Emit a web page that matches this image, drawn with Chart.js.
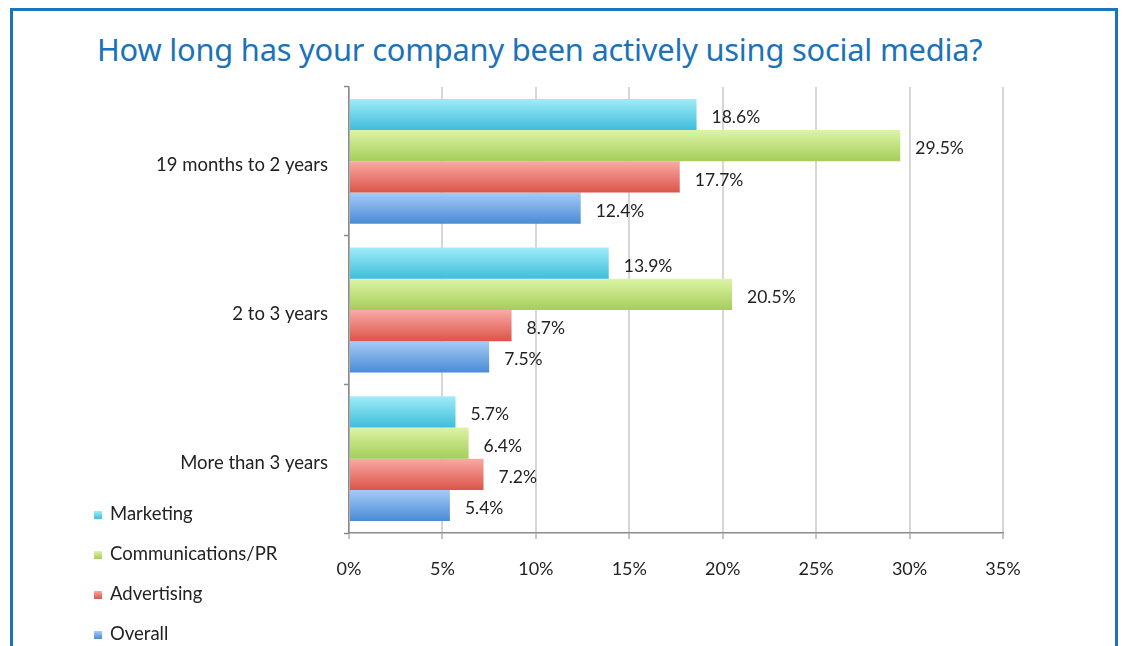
<!DOCTYPE html>
<html>
<head>
<meta charset="utf-8">
<script src="https://cdn.jsdelivr.net/npm/chart.js@4.4.0/dist/chart.umd.min.js"></script>
<style>
  html, body { margin: 0; padding: 0; background: #fff; overflow: hidden; }
  #wrap { position: relative; width: 1124px; height: 646px; }
  #frame { position: absolute; left: 10px; top: 8px; width: 1108px; height: 700px; border: 3px solid #1d74ba; box-sizing: border-box; }
  #title { position: absolute; left: 97px; top: 28px; margin: 0; font-family: "Noto Sans", sans-serif; font-weight: normal; font-size: 30.8px; color: #1a72b9; white-space: nowrap; letter-spacing: -0.2px; }
  #chart { position: absolute; left: 0; top: 0; }
  #legend { position: absolute; left: 94px; top: 500px; font-family: Lato, sans-serif; font-size: 18.5px; color: #222; }
  #legend div { height: 40px; line-height: 26px; }
  #legend span.sw { display: inline-block; width: 8px; height: 8px; margin-right: 8px; vertical-align: 1px; }
</style>
</head>
<body>
<div id="wrap">
  <div id="frame"></div>
  <h1 id="title">How long has your company been actively using social media?</h1>
  <canvas id="chart" width="1124" height="646"></canvas>
  <div id="legend"></div>
</div>
<script>
const categories = ['19 months to 2 years', '2 to 3 years', 'More than 3 years'];
const seriesNames = ['Marketing', 'Communications/PR', 'Advertising', 'Overall'];
const marketing = [18.6, 13.9, 5.7];
const communications = [29.5, 20.5, 6.4];
const advertising = [17.7, 8.7, 7.2];
const overall = [12.4, 7.5, 5.4];
const xTicks = [0, 5, 10, 15, 20, 25, 30, 35];

// top / bottom colours of each bar gradient
const shades = [
    ['#a0ecf7', '#3fbddc'],
    ['#dcf4a6', '#a6cd5a'],
    ['#f9aaa5', '#db5549'],
    ['#a6cbf6', '#4a8bd5']
];

const catPct = 0.84;

function barGradient(i) {
    return (context) => {
        const chart = context.chart;
        const y = chart.scales.y;
        if (!y || !chart.chartArea || context.dataIndex === undefined) return shades[i][1];
        const band = y.height / categories.length;
        const thick = band * catPct / seriesNames.length;
        const center = y.getPixelForValue(context.dataIndex);
        const top = center - band * catPct / 2 + i * thick;
        const g = chart.ctx.createLinearGradient(0, top, 0, top + thick);
        g.addColorStop(0, shades[i][0]);
        g.addColorStop(1, shades[i][1]);
        return g;
    };
}

const valueLabels = {
    id: 'valueLabels',
    afterDatasetsDraw(chart) {
        const c = chart.ctx;
        c.save();
        c.font = '17.5px Lato, sans-serif';
        c.fillStyle = '#222';
        c.textBaseline = 'middle';
        chart.data.datasets.forEach((ds, di) => {
            chart.getDatasetMeta(di).data.forEach((bar, idx) => {
                c.fillText(ds.data[idx].toFixed(1) + '%', bar.x + 15, bar.y + 3);
            });
        });
        c.restore();
    }
};

const allSeries = [marketing, communications, advertising, overall];

new Chart(document.getElementById('chart'), {
    type: 'bar',
    data: {
        labels: categories,
        datasets: allSeries.map((vals, i) => ({
            label: seriesNames[i],
            data: vals,
            backgroundColor: barGradient(i),
            borderWidth: 0,
            categoryPercentage: catPct,
            barPercentage: 1.0
        }))
    },
    options: {
        indexAxis: 'y',
        responsive: false,
        animation: false,
        layout: { padding: { left: 0, top: 87, right: 121, bottom: 63 } },
        plugins: {
            legend: { display: false },
            tooltip: { enabled: false }
        },
        scales: {
            x: {
                min: 0,
                max: 35,
                afterBuildTicks: (axis) => { axis.ticks = xTicks.map(v => ({ value: v })); },
                afterFit: (axis) => { axis.height = 50; },
                ticks: {
                    callback: (v) => v + '%',
                    color: '#222',
                    font: { family: 'Lato', size: 18 },
                    padding: 19,
                    maxRotation: 0
                },
                grid: { color: '#d6d6d6', lineWidth: 2, tickLength: 6, tickColor: '#8a8a8a', tickWidth: 1 },
                border: { color: '#8a8a8a', width: 1.5 }
            },
            y: {
                afterFit: (axis) => { axis.width = 349; },
                ticks: {
                    color: '#222',
                    font: { family: 'Lato', size: 18.5 },
                    padding: 16,
                    labelOffset: 4
                },
                grid: { drawOnChartArea: false, offset: true, tickLength: 5, tickColor: '#8a8a8a', tickWidth: 1.5 },
                border: { color: '#8a8a8a', width: 1.5 }
            }
        }
    },
    plugins: [valueLabels]
});

const legend = document.getElementById('legend');
seriesNames.forEach((name, i) => {
    const row = document.createElement('div');
    const sw = document.createElement('span');
    sw.className = 'sw';
    sw.style.background = 'linear-gradient(' + shades[i][0] + ',' + shades[i][1] + ')';
    row.appendChild(sw);
    row.appendChild(document.createTextNode(name));
    legend.appendChild(row);
});
</script>
</body>
</html>
